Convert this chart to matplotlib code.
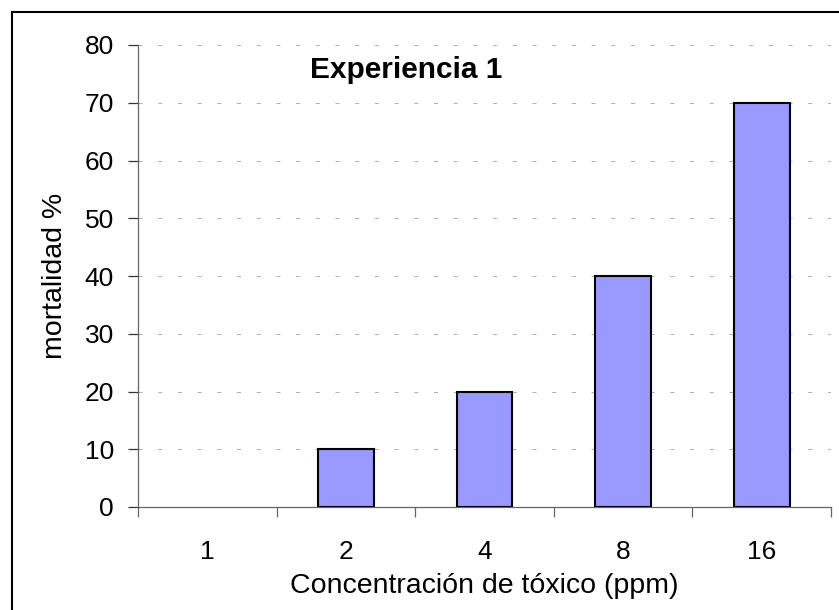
import matplotlib
matplotlib.use("Agg")
import matplotlib.pyplot as plt
from matplotlib.lines import Line2D
import numpy as np

categories = ["1", "2", "4", "8", "16"]
mortalidad = [0, 10, 20, 40, 70]
yticks = [0, 10, 20, 30, 40, 50, 60, 70, 80]

plt.rcParams['font.family'] = ['Liberation Sans', 'DejaVu Sans']

W, H = 839, 610
fig = plt.figure(figsize=(W/100, H/100), dpi=100)
# outer frame (top and left edges visible)
fig.lines.append(Line2D([11.5/W, 11.5/W], [0, 1 - 11.5/H], transform=fig.transFigure,
                        color='black', linewidth=1.5))
fig.lines.append(Line2D([11.5/W, 1], [1 - 11.5/H, 1 - 11.5/H], transform=fig.transFigure,
                        color='black', linewidth=1.5))

ax = fig.add_axes([138/W, 1 - 507/H, (831-138)/W, (507-45)/H])
x = np.arange(len(categories))
bars = ax.bar(x, mortalidad, width=0.404, color='#9999ff', edgecolor='black',
              linewidth=1.5, zorder=3)
for b, v in zip(bars, mortalidad):
    if v == 0:
        b.set_linewidth(0)
ax.set_xlim(-0.5, len(categories) - 0.5)
ax.set_ylim(0, 80)
ax.set_yticks(yticks)
ax.set_yticklabels([str(v) for v in yticks], fontsize=19)
ax.yaxis.grid(True, linestyle=(0, (4, 15.7)), color='#b0b0b0', linewidth=0.72)
ax.set_axisbelow(True)

ax.set_xticks(x)
ax.set_xticklabels(categories, fontsize=19)
ax.tick_params(axis='x', which='major', length=0, pad=24)
ax.set_xticks(np.arange(len(categories) + 1) - 0.5, minor=True)
ax.tick_params(axis='x', which='minor', length=7.2, color='#666666', width=0.9)
ax.tick_params(axis='y', length=7.2, color='#333333', width=0.9, pad=10)

for s in ['top', 'right']:
    ax.spines[s].set_visible(False)
ax.spines['left'].set_color('#666666')
ax.spines['bottom'].set_color('#666666')
ax.spines['left'].set_linewidth(0.9)
ax.spines['bottom'].set_linewidth(0.9)

ax.set_xlabel("Concentración de tóxico (ppm)", fontsize=20.5, va='center')
ax.xaxis.set_label_coords(0.5, -0.171)
ax.set_ylabel("mortalidad %", fontsize=20.5, va='center')
ax.yaxis.set_label_coords(-0.12, 0.5)
ax.text(0.248, 0.946, "Experiencia 1", transform=ax.transAxes, fontsize=21.5,
        fontweight='bold', va='center', ha='left')

fig.savefig("out.png", dpi=100)
